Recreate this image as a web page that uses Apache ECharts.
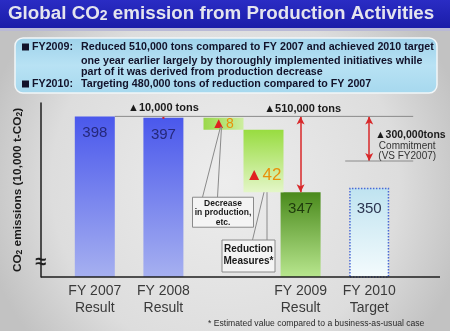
<!DOCTYPE html>
<html><head><meta charset="utf-8">
<script src="https://cdn.jsdelivr.net/npm/echarts@6/dist/echarts.min.js"></script>
<style>html,body{margin:0;padding:0;background:#d9d9d9}#c{width:450px;height:331px}</style>
</head><body><div id="c"></div>
<script>
// ---- data ----
const categories = ['FY 2007\nResult', 'FY 2008\nResult', '', 'FY 2009\nResult', 'FY 2010\nTarget'];
const emissions = [398, 397, null, 347, 350];          // 10,000 t-CO2
const decreaseProduction = 8;                          // decrease in production, etc.
const reductionMeasures = 42;                          // reduction measures*
const commitment = 30;                                 // 300,000 tons vs FY2007
const axisMin = 290, axisMax = 407;
const titleParts = ['Global CO', '2', ' emission from Production Activities'];
const infoLines = [
  ['FY2009:', 'Reduced 510,000 tons compared to FY 2007 and achieved 2010 target'],
  ['', 'one year earlier largely by thoroughly implemented initiatives while'],
  ['', 'part of it was derived from production decrease'],
  ['FY2010:', 'Targeting 480,000 tons of reduction compared to FY 2007']
];
const noteText = '* Estimated value compared to a business-as-usual case';
const diffLabels = ['▲10,000 tons', '▲510,000 tons', '▲300,000tons', 'Commitment', '(VS FY2007)'];
const calloutDecrease = ['Decrease', 'in production,', 'etc.'];
const calloutMeasures = ['Reduction', 'Measures*'];

const FONT = '"Liberation Sans", Arial, sans-serif';
const grad = (c0, c1) => new echarts.graphic.LinearGradient(0, 0, 0, 1, [{offset: 0, color: c0}, {offset: 1, color: c1}]);

const barStyles = [
  {itemStyle: {color: grad('#4a58ec', '#a6b0f0')}, label: {color: '#25287a'}},
  {itemStyle: {color: grad('#4a58ec', '#a6b0f0')}, label: {color: '#25287a'}},
  null,
  {itemStyle: {color: grad('#4a8a1c', '#b8e68e')}, label: {color: '#1e3a0c'}},
  {itemStyle: {color: grad('#bfe3f0', '#f4fbfd'), borderColor: '#4a6ad6', borderWidth: 1.5, borderType: 'dotted'}, label: {color: '#2c3550', distance: 14}}
];

const option = {
  animation: false,
  backgroundColor: 'transparent',
  grid: [
    {left: 60.5, right: 46.5, top: 103, bottom: 54},
    {left: 193.5, width: 100, top: 103, bottom: 54}
  ],
  xAxis: [
    {type: 'category', gridIndex: 0, data: categories,
     axisLine: {show: false}, axisTick: {show: false},
     axisLabel: {interval: 0, fontFamily: FONT, fontSize: 14, color: '#3a3a3a', lineHeight: 17, margin: 6}},
    {type: 'category', gridIndex: 1, data: [''], show: false}
  ],
  yAxis: [
    {type: 'value', gridIndex: 0, min: axisMin, max: axisMax, offset: 19.5,
     axisLine: {show: true, lineStyle: {color: '#1e1e1e', width: 1.5}},
     axisTick: {show: false}, axisLabel: {show: false}, splitLine: {show: false},
     name: '{a|CO}{s|2}{a| emissions (10,000 t-CO}{s|2}{a|)}', nameLocation: 'middle', nameGap: 17,
     nameTextStyle: {rich: {
       a: {fontFamily: FONT, fontWeight: 'bold', fontSize: 11.8, color: '#1a1a1a'},
       s: {fontFamily: FONT, fontWeight: 'bold', fontSize: 8.5, color: '#1a1a1a', padding: [4, 0, 0, 0]}}}},
    {type: 'value', gridIndex: 1, min: axisMin, max: axisMax, show: false}
  ],
  series: [
    {type: 'bar', xAxisIndex: 0, yAxisIndex: 0, barWidth: 40,
     data: emissions.map((v, i) => v == null ? null : Object.assign({value: v}, barStyles[i])),
     label: {show: true, position: 'insideTop', distance: 9, fontFamily: FONT, fontSize: 15},
     markLine: {silent: true, symbol: ['arrow', 'arrow'], symbolSize: [6, 8],
       lineStyle: {color: '#d8282a', width: 1.5, type: 'solid'}, label: {show: false},
       data: [
         [{coord: [3, emissions[0]]}, {coord: [3, emissions[3]]}],
         [{coord: [4, emissions[0]]}, {coord: [4, emissions[0] - commitment]}]
       ]}},
    {type: 'bar', xAxisIndex: 1, yAxisIndex: 1, stack: 'dec', barWidth: 40, barGap: '0%',
     itemStyle: {color: 'transparent'}, data: [emissions[1] - decreaseProduction]},
    {type: 'bar', xAxisIndex: 1, yAxisIndex: 1, stack: 'dec', barWidth: 40, barGap: '0%',
     itemStyle: {color: new echarts.graphic.LinearGradient(0, 0, 1, 0, [{offset: 0, color: '#9ad84a'}, {offset: 1, color: '#cdeea0'}])},
     label: {show: true, position: 'inside', offset: [-1, 0], formatter: p => '{t|▲}{n|' + p.value + '}',
       rich: {t: {color: '#e02020', fontSize: 15, fontFamily: FONT}, n: {color: '#e8900a', fontSize: 14, fontFamily: FONT}}},
     data: [decreaseProduction]},
    {type: 'bar', xAxisIndex: 1, yAxisIndex: 1, stack: 'red', barWidth: 40, barGap: '0%',
     itemStyle: {color: 'transparent'}, data: [emissions[3]]},
    {type: 'bar', xAxisIndex: 1, yAxisIndex: 1, stack: 'red', barWidth: 40, barGap: '0%',
     itemStyle: {color: grad('#98dc40', '#e4f6c8')},
     label: {show: true, position: 'insideBottom', distance: 8, formatter: p => '{t|▲}{n|' + p.value + '}',
       rich: {t: {color: '#e02020', fontSize: 17, fontFamily: FONT}, n: {color: '#e8900a', fontSize: 17, fontFamily: FONT}}},
     data: [reductionMeasures]}
  ]
};

const chart = echarts.init(document.getElementById('c'));
chart.setOption(option);

const px = (i, v) => chart.convertToPixel({xAxisIndex: 0, yAxisIndex: 0}, [i, v]);
const pm = (v) => chart.convertToPixel({xAxisIndex: 1, yAxisIndex: 1}, [0, v]);
const y398 = px(0, emissions[0])[1];
const yCommit = px(4, emissions[0] - commitment)[1];
const x07 = px(0, 0)[0], x08 = px(1, 0)[0], x09 = px(3, 0)[0], x10 = px(4, 0)[0];
const midX = pm(0)[0];
const decX = midX - 20, redX = midX + 20;
const yDecMid = pm(emissions[1] - decreaseProduction / 2)[1];
const y347 = pm(emissions[3])[1];
const yAxisBottom = px(0, axisMin)[1];

const txt = (x, y, text, o) => ({type: 'text', x, y, z: 50, style: Object.assign({text, fontFamily: FONT, fill: '#1a1a1a', align: 'center', verticalAlign: 'middle'}, o || {})});
const line = (x1, y1, x2, y2, stroke, lw) => ({type: 'line', z: 40, shape: {x1, y1, x2, y2}, style: {stroke, lineWidth: lw || 1}});

const g = [];
// background
g.push({type: 'rect', z: -10, shape: {x: 0, y: 0, width: 450, height: 331},
  style: {fill: new echarts.graphic.RadialGradient(0.5, 0.55, 0.75, [{offset: 0, color: '#ededed'}, {offset: 0.7, color: '#dddddd'}, {offset: 1, color: '#c2c2c2'}])}});
// title bar
g.push({type: 'rect', z: -5, shape: {x: 0, y: 0, width: 450, height: 28},
  style: {fill: new echarts.graphic.LinearGradient(0, 0, 0, 1, [{offset: 0, color: '#2a2cc4'}, {offset: 1, color: '#1a1ca8'}])}});
g.push({type: 'rect', z: -5, shape: {x: 0, y: 28, width: 450, height: 3}, style: {fill: '#b9b9d6'}});
g.push({type: 'text', x: 8, y: 14, z: 50, style: {
  text: '{a|' + titleParts[0] + '}{s|' + titleParts[1] + '}{a|' + titleParts[2] + '}',
  verticalAlign: 'middle', align: 'left',
  rich: {a: {fontFamily: FONT, fontWeight: 'bold', fontSize: 18.8, fill: '#e4e4ee', color: '#e4e4ee'},
         s: {fontFamily: FONT, fontWeight: 'bold', fontSize: 14, fill: '#e4e4ee', color: '#e4e4ee', padding: [5, 0, 0, 0]}}}});
// info box
g.push({type: 'rect', z: -4, shape: {x: 15, y: 38, width: 422, height: 55, r: 8},
  style: {fill: new echarts.graphic.LinearGradient(0, 0, 0, 1, [{offset: 0, color: '#9ed2ea'}, {offset: 0.5, color: '#b8e2f4'}, {offset: 1, color: '#a6d8ee'}]),
          stroke: '#f2f6f8', lineWidth: 1.5}});
const infoY = [47, 61, 72, 84];
infoLines.forEach((l, i) => {
  if (l[0]) {
    g.push({type: 'rect', z: 50, shape: {x: 22, y: infoY[i] - 3.5, width: 7, height: 7}, style: {fill: '#12122a'}});
    g.push(txt(32, infoY[i], l[0], {align: 'left', fontWeight: 'bold', fontSize: 10.7, fill: '#12122a'}));
  }
  g.push(txt(81, infoY[i], l[1], {align: 'left', fontWeight: 'bold', fontSize: 10.7, fill: '#12122a'}));
});
// x axis line and break
g.push(line(41, yAxisBottom, 440, yAxisBottom, '#1e1e1e', 1.5));
g.push(txt(41, yAxisBottom - 15, '≈', {fontSize: 20, fontWeight: 'bold', fill: '#1e1e1e'}));
// reference lines
g.push(line(x07 + 20, y398, x10 + 44, y398, '#8a8a8a', 1));
g.push(line(x10 - 24, yCommit, x10 + 44, yCommit, '#8a8a8a', 1));
g.push(line(x08, y398 + 0.5, x08, px(1, emissions[1])[1] + 1, '#d8282a', 2));
g.push(txt(x08, y398 - 8, diffLabels[0], {fontWeight: 'bold', fontSize: 11}));
g.push(txt(x09 + 2, y398 - 7, diffLabels[1], {fontWeight: 'bold', fontSize: 11}));
g.push(txt(x10 + 6, y398 + 19, diffLabels[2], {align: 'left', fontWeight: 'bold', fontSize: 10.5}));
g.push(txt(x10 + 38, y398 + 30, diffLabels[3], {fontSize: 10, fill: '#333'}));
g.push(txt(x10 + 38, y398 + 39.5, diffLabels[4], {fontSize: 10, fill: '#333'}));
// callout: decrease in production
const b1Top = y347 + 5;
g.push(line(decX - 21, b1Top, decX - 3, yDecMid + 3, '#8a8a8a', 1));
g.push(line(decX - 6, b1Top, decX - 2, yDecMid + 3, '#8a8a8a', 1));
g.push({type: 'rect', z: 45, shape: {x: decX - 31, y: b1Top, width: 61, height: 30}, style: {fill: '#f4f4f4', stroke: '#8a8a8a', lineWidth: 1}});
calloutDecrease.forEach((t, i) => g.push(txt(decX - 0.5, b1Top + 6 + i * 9.5, t, {fontWeight: 'bold', fontSize: 8.5})));
// callout: reduction measures
const b2Top = yAxisBottom - 37;
g.push(line(redX - 11, b2Top, redX + 0.5, y347, '#8a8a8a', 1));
g.push(line(redX + 3.5, b2Top, redX + 3.5, y347, '#8a8a8a', 1));
g.push({type: 'rect', z: 45, shape: {x: redX - 41.5, y: b2Top, width: 53, height: 32}, style: {fill: '#f4f4f4', stroke: '#8a8a8a', lineWidth: 1}});
calloutMeasures.forEach((t, i) => g.push(txt(redX - 15, b2Top + 9 + i * 12, t, {fontWeight: 'bold', fontSize: 10})));
// footnote
g.push(txt(208, 324, noteText, {align: 'left', fontSize: 8.6, fill: '#2a2a2a'}));

chart.setOption({graphic: g});
</script></body></html>
